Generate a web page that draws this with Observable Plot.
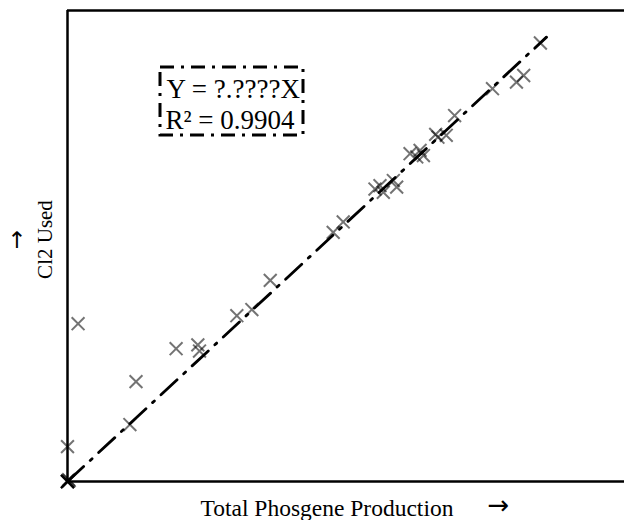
<!DOCTYPE html>
<html>
<head>
<meta charset="utf-8">
<script src="https://cdn.jsdelivr.net/npm/d3@7"></script>
<script src="https://cdn.jsdelivr.net/npm/@observablehq/plot@0.6"></script>
<style>
  html, body { margin: 0; padding: 0; background: #fff; }
</style>
</head>
<body>
<div id="chart"></div>
<script>
// Total phosgene production (x) vs Cl2 used (y), arbitrary units
const production = [0, 0, 0, 0, 0, 0.3, 0.2, 0, 1.9, 11.2, 12.3, 19.5, 23.4, 23.7, 30.4, 33.1, 36.4,
  47.7, 49.5, 55.2, 56.1, 56.7, 58.5, 59.1, 61.5, 63.3, 63.9, 62.7, 66.1, 66.5, 68.0, 69.5,
  76.3, 80.6, 81.9, 84.9];
const cl2Used = [0, 0, 0, 0, 0, 0.2, 0.4, 7.4, 33.5, 12.1, 21.2, 28.2, 29.0, 27.7, 35.2, 36.5, 42.7,
  52.9, 55.1, 62.1, 62.8, 61.4, 63.9, 62.5, 69.6, 70.3, 69.2, 68.9, 73.7, 73.1, 73.5, 77.7,
  83.4, 84.8, 86.2, 93.1];

// Fitted line through origin
const fitSlope = 1.097;
const fitRange = [0, 86];

const xLabel = "Total Phosgene Production";
const yLabel = "Cl2 Used";
const arrow = "→";
const eqLines = ["Y = ?.????X", "R² = 0.9904"];

const points = production.map((x, i) => ({x, y: cl2Used[i]}));
const fit = fitRange.map(x => ({x, y: fitSlope * x}));

const serif = "'Liberation Serif', 'Times New Roman', serif";
const arrowFont = "'DejaVu Sans', sans-serif";

const plot = Plot.plot({
  width: 624,
  height: 520,
  marginLeft: 67,
  marginTop: 10,
  marginBottom: 39,
  marginRight: 0,
  style: {fontFamily: serif, background: "#fff", color: "#000", overflow: "visible"},
  x: {domain: [0, 100], axis: null},
  y: {domain: [0, 100], axis: null},
  marks: [
    Plot.ruleX([0], {stroke: "#000", strokeWidth: 2.5}),
    Plot.ruleY([0, 100], {stroke: "#000", strokeWidth: 2.5}),
    Plot.line(fit, {x: "x", y: "y", stroke: "#000", strokeWidth: 2.8, strokeDasharray: "22,9,2.5,9"}),
    Plot.dot(points, {x: "x", y: "y", symbol: "times", r: 5.9, stroke: "#000", strokeOpacity: 0.55, strokeWidth: 2}),
    Plot.text([eqLines[0]], {frameAnchor: "top-left", textAnchor: "start", lineAnchor: "bottom", dx: 99, dy: 87, fontSize: 27, fill: "#000"}),
    Plot.text([eqLines[1]], {frameAnchor: "top-left", textAnchor: "start", lineAnchor: "bottom", dx: 98, dy: 118, fontSize: 27, fill: "#000"}),
    Plot.text([xLabel], {frameAnchor: "bottom-left", textAnchor: "start", lineAnchor: "bottom", dx: 133, dy: 34, fontSize: 23.5, fill: "#000"}),
    Plot.text([arrow], {frameAnchor: "bottom-left", textAnchor: "start", lineAnchor: "bottom", dx: 420, dy: 32.8, fontSize: 26, fontFamily: arrowFont, fill: "#000"}),
    Plot.text([yLabel], {frameAnchor: "left", rotate: -90, textAnchor: "middle", lineAnchor: "bottom", dx: -16, dy: -6.5, fontSize: 21, fill: "#000"}),
    Plot.text([arrow], {frameAnchor: "left", rotate: -90, textAnchor: "middle", lineAnchor: "bottom", dx: -44, dy: -6.5, fontSize: 23, fontFamily: arrowFont, fill: "#000"})
  ]
});

// dash-dot box around the equation annotation
d3.select(plot).append("rect")
  .attr("x", 160).attr("y", 67).attr("width", 143).attr("height", 68)
  .attr("fill", "none").attr("stroke", "#000").attr("stroke-width", 3)
  .attr("stroke-dasharray", "14,7,3,7");

document.getElementById("chart").appendChild(plot);
</script>
</body>
</html>
